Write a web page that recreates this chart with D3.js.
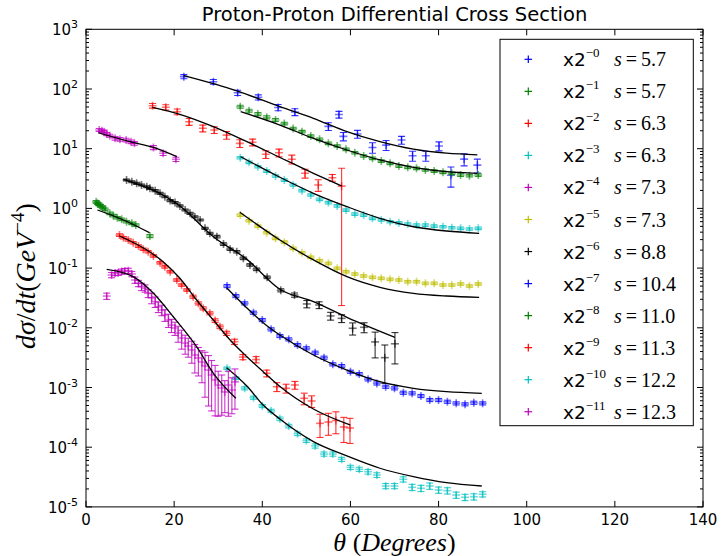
<!DOCTYPE html>
<html><head><meta charset="utf-8">
<script src="https://cdn.jsdelivr.net/npm/d3@7/dist/d3.min.js"></script>
<style>body{margin:0;background:#fff}</style>
</head><body><svg id="c" width="722" height="556"></svg>
<script>
// ---- data: [theta (deg), dsigma/dt, relative error] ----
const s0 = [[22.2,161,0.08],[28.9,132,0.09],[34.4,86.7,0.1],[39.1,72.6,0.1],[43.6,49,0.12],[47.4,41.2,0.13],[55.0,23.7,0.15],[57.4,37.4,0.13],[58.4,16.1,0.16],[61.6,17.6,0.15],[65.0,10.5,0.2],[68.1,11.5,0.19],[71.6,14.0,0.15],[74.1,7.6,0.19],[77.1,7.6,0.19],[80.1,11.1,0.17],[82.8,3.6,0.37],[85.8,6.7,0.23],[88.8,5.3,0.26]];
const s1 = [[35,50.5,0.06],[37,43.3,0.06],[39,38.1,0.06],[41,33.6,0.06],[43,30.3,0.06],[45,26.4,0.05],[47,21.8,0.05],[49,19.3,0.05],[51,16.3,0.05],[53,14.4,0.05],[55,12.3,0.05],[57,11.1,0.05],[59,9.77,0.05],[61,8.57,0.05],[63,7.55,0.05],[65,6.91,0.05],[67,6.22,0.05],[69,5.69,0.05],[71,5.13,0.05],[73,4.88,0.05],[75,4.70,0.05],[77,4.40,0.05],[79,4.23,0.05],[81,4.02,0.05],[83,3.87,0.05],[85,3.62,0.05],[87,3.53,0.05],[89,3.62,0.05]];
const s2 = [[15.1,52.5,0.09],[18.1,49.4,0.1],[20.7,41.7,0.11],[23.4,28.3,0.13],[26.5,22.0,0.13],[29.1,20.6,0.13],[31.9,16.9,0.15],[34.9,12.3,0.15],[37.8,12.8,0.13],[40.8,8.05,0.15],[43.8,8.57,0.15],[46.7,6.67,0.17],[49.7,3.87,0.17],[52.7,2.47,0.22],[55.9,3.27,0.13],[58.0,2.36,0.99]];
const s3 = [[35,7.06,0.05],[37,5.92,0.05],[39,4.99,0.05],[41,4.23,0.05],[43,3.49,0.05],[45,2.99,0.05],[47,2.47,0.05],[49,1.98,0.05],[51,1.68,0.05],[53,1.42,0.05],[55,1.25,0.05],[57,1.10,0.05],[59,0.94,0.05],[61,0.805,0.05],[63,0.775,0.05],[65,0.682,0.05],[67,0.640,0.05],[69,0.598,0.05],[71,0.575,0.05],[73,0.548,0.05],[75,0.527,0.05],[77,0.527,0.05],[79,0.507,0.05],[81,0.493,0.05],[83,0.475,0.05],[85,0.464,0.05],[87,0.452,0.05],[89,0.464,0.05]];
const s4 = [[3.0,20.6,0.06],[3.6,20.0,0.06],[4.1,19.3,0.06],[4.7,17.6,0.06],[5.4,16.5,0.06],[6.6,14.9,0.07],[7.7,14.4,0.07],[9.1,14.0,0.07],[10.2,13.1,0.07],[11.0,12.3,0.07],[15.3,10.5,0.08],[17.5,8.38,0.08],[20.4,6.64,0.08]];
const s5 = [[35,0.775,0.05],[37,0.622,0.05],[39,0.507,0.05],[41,0.392,0.05],[43,0.316,0.05],[45,0.272,0.05],[47,0.215,0.05],[49,0.181,0.05],[51,0.152,0.05],[53,0.133,0.05],[55,0.120,0.05],[57,0.0993,0.05],[59,0.0871,0.05],[61,0.0796,0.05],[63,0.0738,0.05],[65,0.0701,0.05],[67,0.0675,0.05],[69,0.0649,0.05],[71,0.0632,0.05],[73,0.0592,0.05],[75,0.0592,0.05],[77,0.0556,0.05],[79,0.0556,0.05],[81,0.0521,0.05],[83,0.0521,0.05],[85,0.0542,0.05],[87,0.0502,0.05],[89,0.0542,0.05]];
const s6 = [[9.2,2.99,0.04],[10.4,2.80,0.04],[11.5,2.63,0.04],[12.6,2.47,0.04],[13.8,2.31,0.04],[14.5,2.17,0.04],[15.7,1.98,0.04],[16.8,1.79,0.04],[17.9,1.57,0.04],[19.1,1.35,0.04],[20.2,1.25,0.04],[21.3,1.10,0.04],[22.5,0.94,0.04],[23.6,0.828,0.04],[24.7,0.726,0.04],[25.9,0.640,0.04],[27.0,0.464,0.04],[28.1,0.383,0.04],[29.7,0.336,0.05],[31.2,0.253,0.05],[32.7,0.207,0.05],[34.2,0.188,0.05],[35.7,0.146,0.05],[37.2,0.113,0.05],[38.7,0.0955,0.05],[41.1,0.0701,0.05],[44.2,0.0425,0.06],[47.3,0.0354,0.08],[50.1,0.0251,0.14],[52.9,0.0241,0.13],[55.5,0.0158,0.15],[58.0,0.0144,0.15],[60.5,0.00982,0.23],[63.1,0.0102,0.19],[65.6,0.0058,0.46],[67.8,0.00316,0.63],[70.1,0.0054,0.54]];
const s7 = [[32,0.0501,0.06],[34,0.0341,0.06],[36,0.0257,0.06],[38,0.0179,0.06],[40,0.0135,0.06],[42,0.00944,0.06],[44,0.00729,0.06],[46,0.00641,0.06],[48,0.00515,0.06],[50,0.00454,0.06],[52,0.00383,0.06],[54,0.00316,0.06],[56,0.00245,0.06],[58,0.00229,0.06],[60,0.00184,0.06],[62,0.00168,0.06],[64,0.00137,0.06],[66,0.00117,0.06],[68,0.00103,0.06],[70,0.00097,0.06],[72,0.000818,0.06],[74,0.000800,0.06],[76,0.000721,0.06],[78,0.000618,0.06],[80,0.000618,0.06],[82,0.000578,0.06],[84,0.000543,0.06],[86,0.000524,0.06],[88,0.000556,0.06],[90,0.000543,0.06]];
const s8 = [[2.3,1.29,0.05],[2.6,1.22,0.05],[2.9,1.17,0.05],[3.3,1.10,0.05],[3.8,1.04,0.05],[4.3,0.966,0.05],[5.4,0.828,0.05],[6.2,0.755,0.05],[7.1,0.698,0.05],[8.1,0.656,0.05],[9.2,0.598,0.05],[10.4,0.562,0.05],[11.3,0.527,0.05],[14.5,0.345,0.06]];
const s9 = [[7.6,0.358,0.05],[8.5,0.323,0.05],[9.6,0.296,0.05],[10.7,0.266,0.05],[11.9,0.234,0.05],[13.0,0.207,0.05],[14.1,0.188,0.05],[15.3,0.160,0.05],[16.8,0.123,0.05],[17.9,0.105,0.05],[19.1,0.0871,0.05],[20.6,0.0632,0.05],[21.7,0.0521,0.05],[22.9,0.0430,0.05],[24.3,0.0332,0.06],[25.5,0.0257,0.06],[26.6,0.0212,0.06],[28.1,0.0175,0.06],[29.3,0.0132,0.07],[30.4,0.0104,0.07],[31.9,0.00809,0.08],[33.7,0.00585,0.1],[35.6,0.00324,0.1],[38.6,0.00294,0.12],[41.0,0.00173,0.13],[43.3,0.00103,0.17],[45.4,0.00097,0.17],[47.4,0.00110,0.15],[49.5,0.000659,0.22],[51.2,0.000594,0.22],[53.1,0.000251,0.42],[55.0,0.000264,0.4],[56.7,0.000280,0.4],[58.5,0.000218,0.45],[59.9,0.000210,0.45]];
const s10 = [[32,0.00210,0.05],[34,0.00143,0.05],[36,0.00097,0.06],[38,0.000675,0.06],[40,0.000490,0.06],[42,0.000408,0.06],[44,0.000299,0.07],[46,0.000226,0.07],[48,0.000168,0.07],[50,0.000129,0.07],[52,0.000105,0.08],[54,0.0000769,0.08],[56,0.0000769,0.08],[58,0.0000627,0.08],[60,0.0000460,0.08],[62,0.0000427,0.08],[64,0.0000389,0.09],[66,0.0000342,0.09],[68,0.0000224,0.1],[70,0.0000224,0.1],[72,0.0000290,0.1],[74,0.0000213,0.12],[76,0.0000205,0.12],[78,0.0000224,0.12],[80,0.0000192,0.12],[82,0.0000187,0.12],[84,0.0000158,0.12],[86,0.0000145,0.12],[88,0.0000148,0.12],[90,0.0000163,0.1]];
const s11 = [[4.7,0.0340,0.12],[5.8,0.0766,0.1],[6.6,0.0828,0.1],[7.3,0.0837,0.1],[8.1,0.0877,0.1],[8.8,0.0894,0.1],[9.6,0.0904,0.1],[10.4,0.0796,0.1],[11.1,0.0632,0.12],[11.9,0.0556,0.12],[12.6,0.0488,0.14],[13.4,0.0459,0.14],[14.1,0.0378,0.15],[14.9,0.0316,0.2],[15.7,0.0274,0.2],[16.4,0.0225,0.2],[17.2,0.0199,0.2],[17.9,0.0164,0.22],[18.7,0.0135,0.25],[19.4,0.0111,0.25],[20.2,0.00993,0.25],[20.9,0.00818,0.3],[21.7,0.00675,0.35],[22.5,0.00556,0.35],[23.2,0.00495,0.35],[24.0,0.00425,0.4],[24.7,0.00350,0.5],[25.5,0.00312,0.5],[26.3,0.00267,0.55],[27.0,0.00229,0.7],[27.8,0.00196,0.75],[28.5,0.00162,0.75],[29.3,0.00134,0.75],[30.0,0.00110,0.7],[30.8,0.000982,0.65],[31.5,0.000841,0.55],[32.3,0.00110,0.7],[33.1,0.000908,0.6],[33.8,0.00124,0.65]];

const fit0 = [[22.2,168],[34.4,92.5],[44.0,50.5],[51.6,32.3],[59.2,19.3],[66.7,13.1],[74.3,9.8],[81.8,8.4],[88.8,7.9]];
const fit1 = [[35.1,41.7],[44.0,24.9],[51.6,14.9],[59.2,9.51],[66.7,6.47],[74.3,4.88],[81.8,4.12],[88.8,3.87]];
const fit2 = [[15.1,49.4],[21.3,37.7],[28.9,23.4],[36.5,13.1],[44.0,7.13],[51.6,3.87],[58.0,2.37]];
const fit3 = [[35.1,7.35],[44.0,3.32],[51.6,1.79],[59.2,1.07],[66.7,0.682],[74.3,0.493],[81.8,0.418],[89.2,0.383]];
const fit4 = [[2.8,18.5],[10.0,13.1],[15.3,10.5],[20.6,7.35]];
const fit5 = [[34.9,0.861],[44.0,0.296],[51.6,0.137],[59.2,0.0718],[66.7,0.0477],[74.3,0.0378],[81.8,0.0341],[89.2,0.0324]];
const fit6 = [[8.5,3.07],[21.3,1.10],[28.9,0.336],[36.5,0.140],[44.0,0.0442],[51.6,0.0274],[59.2,0.0150],[70.1,0.00693]];
const fit7 = [[31.9,0.0470],[41.8,0.00982],[44.0,0.00757],[51.6,0.00350],[59.2,0.00196],[66.7,0.00125],[74.3,0.00097],[81.8,0.000851],[89.8,0.000800]];
const fit8 = [[2.6,0.94],[8.5,0.640],[14.4,0.392]];
const fit9 = [[7.6,0.345],[13.8,0.201],[17.5,0.128],[21.3,0.0675],[25.1,0.0292],[28.9,0.0135],[32.7,0.00625],[36.5,0.00328],[40.2,0.00184],[44.0,0.00104],[51.6,0.000437],[59.9,0.000236]];
const fit10 = [[31.9,0.00215],[36.5,0.00106],[40.2,0.000509],[44.0,0.000296],[51.6,0.000124],[59.2,0.0000713],[66.7,0.0000444],[74.3,0.0000321],[81.8,0.0000254],[89.8,0.0000224]];
const fit11 = [[4.7,0.0955],[10.7,0.0718],[15.3,0.0378],[19.8,0.0153],[25.1,0.00482],[28.9,0.00173],[34.0,0.000659]];

const exponents = [0,1,2,3,4,5,6,7,8,9,10,11];
const energies = ["5.7","5.7","6.3","6.3","7.3","7.3","8.8","10.4","11.0","11.3","12.2","12.3"];
const xTicks = [0,20,40,60,80,100,120,140];
const yTicks = [1e3,1e2,1e1,1e0,1e-1,1e-2,1e-3,1e-4,1e-5];
const yTickExp = ["3","2","1","0","-1","-2","-3","-4","-5"];

const seriesData = [s0,s1,s2,s3,s4,s5,s6,s7,s8,s9,s10,s11];
const fits = [fit0,fit1,fit2,fit3,fit4,fit5,fit6,fit7,fit8,fit9,fit10,fit11];
const colors = ["#0000ff","#008000","#ff0000","#00bfbf","#bf00bf","#bfbf00","#000000","#0000ff","#008000","#ff0000","#00bfbf","#bf00bf"];

// ---- layout ----
const L=86, R=703, T=29.3, B=506.9;
const svg = d3.select("#c");
const x = d3.scaleLinear().domain([0,140]).range([L,R]);
const y = d3.scaleLog().domain([1e-5,1e3]).range([B,T]);

svg.append("clipPath").attr("id","pc").append("rect").attr("x",L).attr("y",T).attr("width",R-L).attr("height",B-T);
const plot = svg.append("g").attr("clip-path","url(#pc)");

const line = d3.line().x(d=>x(d[0])).y(d=>y(d[1])).curve(d3.curveMonotoneX);

seriesData.forEach((s,i)=>{
  const g = plot.append("g").attr("stroke",colors[i]).attr("fill","none");
  s.forEach(d=>{
    const v=d[1], e=v*d[2];
    const lo=Math.max(v-e, 1e-7), hi=v+e;
    const px=x(d[0]), py=y(v), ylo=y(lo), yhi=y(hi);
    const eg=g.append("g").attr("stroke-opacity",0.8).attr("stroke-width",1.1);
    eg.append("line").attr("x1",px).attr("x2",px).attr("y1",ylo).attr("y2",yhi);
    eg.append("line").attr("x1",px-3.5).attr("x2",px+3.5).attr("y1",ylo).attr("y2",ylo);
    eg.append("line").attr("x1",px-3.5).attr("x2",px+3.5).attr("y1",yhi).attr("y2",yhi);
    const mg=g.append("g").attr("stroke-opacity",0.55).attr("stroke-width",1.6);
    mg.append("line").attr("x1",px-4).attr("x2",px+4).attr("y1",py).attr("y2",py);
    mg.append("line").attr("x1",px).attr("x2",px).attr("y1",py-4).attr("y2",py+4);
  });
  plot.append("path").datum(fits[i]).attr("d",line).attr("fill","none").attr("stroke","#000").attr("stroke-width",1.3);
});

// ---- axes frame and ticks ----
const ax = svg.append("g").attr("stroke","#000").attr("stroke-width",1);
ax.append("rect").attr("x",L).attr("y",T).attr("width",R-L).attr("height",B-T).attr("fill","none");
xTicks.forEach(t=>{
  const px=x(t);
  ax.append("line").attr("x1",px).attr("x2",px).attr("y1",B).attr("y2",B-6);
  ax.append("line").attr("x1",px).attr("x2",px).attr("y1",T).attr("y2",T+6);
});
y.ticks().forEach(t=>{
  const py=y(t);
  const major = Math.abs(Math.log10(t)-Math.round(Math.log10(t)))<1e-6;
  const len = major?6:3;
  ax.append("line").attr("x1",L).attr("x2",L+len).attr("y1",py).attr("y2",py);
  ax.append("line").attr("x1",R).attr("x2",R-len).attr("y1",py).attr("y2",py);
});

const txt = svg.append("g").attr("fill","#000").attr("font-family","DejaVu Sans, sans-serif");
xTicks.forEach(t=>{
  txt.append("text").attr("x",x(t)).attr("y",525).attr("text-anchor","middle").attr("font-size",15).text(t);
});
yTicks.forEach((t,i)=>{
  const tt=txt.append("text").attr("x",78).attr("y",y(t)+6).attr("text-anchor","end").attr("font-size",15);
  tt.append("tspan").text("10");
  tt.append("tspan").attr("dy",-7).attr("font-size",11).text(yTickExp[i]);
});

// title
txt.append("text").attr("x",(L+R)/2).attr("y",21).attr("text-anchor","middle").attr("font-size",19.5).text("Proton-Proton Differential Cross Section");

// x label
const xl = svg.append("text").attr("x",(L+R)/2).attr("y",551).attr("text-anchor","middle")
  .attr("font-family","Liberation Serif, serif").attr("font-size",26);
xl.append("tspan").attr("font-style","italic").text("θ");
xl.append("tspan").text(" (");
xl.append("tspan").attr("font-style","italic").text("Degrees");
xl.append("tspan").text(")");

// y label
const yl = svg.append("text").attr("transform",`translate(35,${(T+B)/2+8}) rotate(-90)`).attr("text-anchor","middle")
  .attr("font-family","Liberation Serif, serif").attr("font-size",28);
yl.append("tspan").attr("font-style","italic").text("dσ");
yl.append("tspan").text("/");
yl.append("tspan").attr("font-style","italic").text("dt");
yl.append("tspan").text("(");
yl.append("tspan").attr("font-style","italic").text("GeV");
yl.append("tspan").attr("dy",-11).attr("font-size",19).text("−4");
yl.append("tspan").attr("dy",11).text(")");

// ---- legend ----
const lg = svg.append("g");
lg.append("rect").attr("x",500).attr("y",39.3).attr("width",193.3).attr("height",386.4).attr("fill","#fff").attr("stroke","#000").attr("stroke-width",1);
exponents.forEach((e,i)=>{
  const cy = 59.3 + 32.04*i;
  const mk = lg.append("g").attr("stroke",colors[i]).attr("stroke-width",1.2);
  mk.append("line").attr("x1",524.5).attr("x2",532.1).attr("y1",cy).attr("y2",cy);
  mk.append("line").attr("x1",528.3).attr("x2",528.3).attr("y1",cy-3.8).attr("y2",cy+3.8);
  const t1 = lg.append("text").attr("x",563).attr("y",cy+7).attr("font-family","DejaVu Sans, sans-serif").attr("font-size",18.5);
  t1.append("tspan").text("x2");
  t1.append("tspan").attr("dy",-9).attr("font-size",13).attr("font-family","Liberation Serif, serif").text("−"+e);
  const t2 = lg.append("text").attr("x",614).attr("y",cy+7).attr("font-family","Liberation Serif, serif").attr("font-size",20);
  t2.append("tspan").attr("font-style","italic").text("s");
  t2.append("tspan").attr("dx",4).text("=");
  t2.append("tspan").attr("dx",4).text(energies[i]);
});
</script></body></html>
